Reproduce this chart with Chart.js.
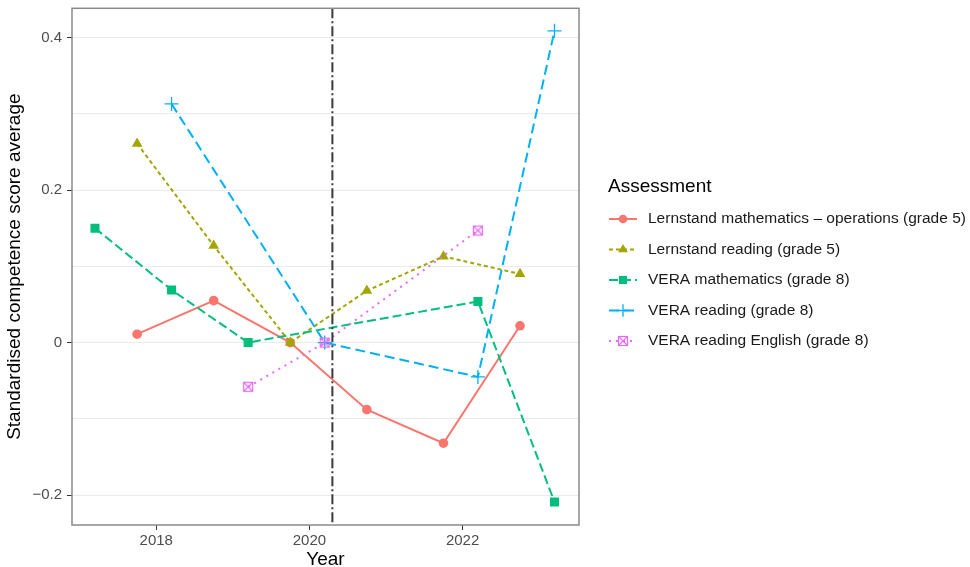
<!DOCTYPE html>
<html>
<head>
<meta charset="utf-8">
<script src="https://cdn.jsdelivr.net/npm/chart.js@4"></script>
<style>
    html, body { margin: 0; padding: 0; background: #fff; }
    #wrap { width: 970px; height: 567px; }
</style>
</head>
<body>
<div id="wrap"><canvas id="chart" width="970" height="567"></canvas></div>
<script>
// Values (x = dodged year position, y = standardised average).
const lernstandYears = [2017.75, 2018.75, 2019.75, 2020.75, 2021.75, 2022.75];
const lernstandMath = [0.011, 0.055, 0, -0.088, -0.132, 0.022];
const lernstandReading = [0.261, 0.127, 0, 0.068, 0.113, 0.090];

const veraMathYears = [2017.2, 2018.2, 2019.2, 2022.2, 2023.2];
const veraMath = [0.150, 0.069, 0, 0.054, -0.209];

const veraReadingYears = [2018.2, 2020.2, 2022.2, 2023.2];
const veraReading = [0.313, 0, -0.045, 0.409];

const veraEnglishYears = [2019.2, 2020.2, 2022.2];
const veraEnglish = [-0.058, 0, 0.147];

const xTicks = [2018, 2020, 2022];
const yGrid = [-0.2, -0.1, 0, 0.1, 0.2, 0.3, 0.4];
const yLabelled = [-0.2, 0, 0.2, 0.4];
const covidLine = 2020.3;

const legendTitle = 'Assessment';
const seriesNames = [
    'Lernstand mathematics \u2013 operations (grade 5)',
    'Lernstand reading (grade 5)',
    'VERA mathematics (grade 8)',
    'VERA reading (grade 8)',
    'VERA reading English (grade 8)',
];

const FONT = '"Liberation Sans", Arial, sans-serif';

// ⊠ marker for the English series — no built-in point style for it.
function boxCross(color) {
    const c = document.createElement('canvas');
    c.width = 12;
    c.height = 12;
    const g = c.getContext('2d');
    g.strokeStyle = color;
    g.lineWidth = 1.2;
    g.strokeRect(1.5, 1.5, 9, 9);
    g.beginPath();
    g.moveTo(1.5, 1.5); g.lineTo(10.5, 10.5);
    g.moveTo(10.5, 1.5); g.lineTo(1.5, 10.5);
    g.stroke();
    return c;
}

const styles = [
    { color: '#F8766D', dash: [], point: 'circle', radius: 4.8, bw: 0 },
    { color: '#A3A500', dash: [4, 3], point: 'triangle', radius: 6.2, bw: 0 },
    { color: '#00BF7D', dash: [9, 4], point: 'rect', radius: 6.4, bw: 0 },
    { color: '#00B0F6', dash: [10, 5], point: 'cross', radius: 7, bw: 1.3 },
    { color: '#E76BF3', dash: [2, 5], point: boxCross('#E76BF3'), radius: 5, bw: 0 },
];

const seriesData = [
    [lernstandYears, lernstandMath],
    [lernstandYears, lernstandReading],
    [veraMathYears, veraMath],
    [veraReadingYears, veraReading],
    [veraEnglishYears, veraEnglish],
];

const datasets = seriesData.map(([xs, ys], i) => ({
    label: seriesNames[i],
    data: xs.map((x, j) => ({ x, y: ys[j] })),
    borderColor: styles[i].color,
    backgroundColor: styles[i].color,
    borderWidth: 2,
    borderDash: styles[i].dash,
    pointStyle: styles[i].point,
    pointRadius: styles[i].radius,
    pointBorderWidth: styles[i].bw,
    pointBorderColor: styles[i].color,
    pointBackgroundColor: styles[i].color,
    tension: 0,
    order: 5 - i,
}));

const isLabelled = (v) => yLabelled.some((l) => Math.abs(l - v) < 1e-9);

// Panel border, dash-dot reference line, and the ggplot-style legend.
const decorations = {
    id: 'decorations',
    afterDatasetsDraw(chart) {
        const { ctx, chartArea: a, scales } = chart;
        ctx.save();
        const xv = scales.x.getPixelForValue(covidLine);
        ctx.strokeStyle = '#3a3a3a';
        ctx.lineWidth = 2;
        ctx.setLineDash([10, 3, 2, 3]);
        ctx.beginPath();
        ctx.moveTo(xv, a.top);
        ctx.lineTo(xv, a.bottom);
        ctx.stroke();
        ctx.setLineDash([]);
        ctx.strokeStyle = '#8a8a8a';
        ctx.lineWidth = 1.5;
        ctx.strokeRect(a.left, a.top, a.right - a.left, a.bottom - a.top);
        ctx.restore();
    },
    afterDraw(chart) {
        const ctx = chart.ctx;
        ctx.save();
        ctx.fillStyle = '#000';
        ctx.textBaseline = 'middle';
        ctx.font = '19px ' + FONT;
        ctx.fillText(legendTitle, 608, 187);
        ctx.font = '15.5px ' + FONT;
        styles.forEach((s, i) => {
            const y = 219 + i * 30.5;
            ctx.strokeStyle = s.color;
            ctx.fillStyle = s.color;
            ctx.lineWidth = 2;
            ctx.setLineDash(s.dash);
            ctx.beginPath();
            ctx.moveTo(609, y);
            ctx.lineTo(637, y);
            ctx.stroke();
            ctx.setLineDash([]);
            ctx.lineWidth = s.bw || 1;
            Chart.helpers.drawPoint(ctx, { pointStyle: s.point, radius: s.radius * 0.9, rotation: 0, borderWidth: s.bw }, 623, y);
            ctx.fillStyle = '#1a1a1a';
            ctx.fillText(seriesNames[i], 648, y);
        });
        ctx.restore();
    },
};

new Chart(document.getElementById('chart'), {
    type: 'line',
    data: { datasets },
    plugins: [decorations],
    options: {
        responsive: false,
        animation: false,
        layout: { padding: { left: 0, top: 8, right: 391, bottom: 0 } },
        plugins: { legend: { display: false }, tooltip: { enabled: false } },
        scales: {
            x: {
                type: 'linear',
                min: 2016.9,
                max: 2023.52,
                afterBuildTicks: (s) => { s.ticks = xTicks.map((v) => ({ value: v })); },
                afterFit: (s) => { s.height = 42; s.paddingLeft = 0; s.paddingRight = 0; },
                ticks: { color: '#4d4d4d', font: { family: FONT, size: 15 }, padding: 2, callback: (v) => String(v) },
                grid: { drawOnChartArea: false, tickLength: 5, tickColor: '#333', lineWidth: 1 },
                border: { display: false },
                title: { display: true, text: 'Year', color: '#000', font: { family: FONT, size: 19, lineHeight: 1 }, padding: { top: 0, bottom: -2 } },
            },
            y: {
                type: 'linear',
                min: -0.2393,
                max: 0.4385,
                afterBuildTicks: (s) => { s.ticks = yGrid.map((v) => ({ value: v })); },
                afterFit: (s) => { s.width = 72; s.paddingTop = 0; s.paddingBottom = 0; },
                ticks: {
                    color: '#4d4d4d',
                    font: { family: FONT, size: 15 },
                    padding: 5,
                    callback: (v) => (isLabelled(v) ? (v < 0 ? '\u2212' + Math.abs(v) : String(v)) : ''),
                },
                grid: {
                    color: '#ebebeb',
                    lineWidth: 1,
                    tickLength: 5,
                    tickColor: (c) => (c.tick && isLabelled(c.tick.value) ? '#333' : 'rgba(0,0,0,0)'),
                },
                border: { display: false },
                title: { display: true, text: 'Standardised competence score average', color: '#000', font: { family: FONT, size: 19 }, padding: { top: 3, bottom: 2 } },
            },
        },
    },
});
</script>
</body>
</html>
